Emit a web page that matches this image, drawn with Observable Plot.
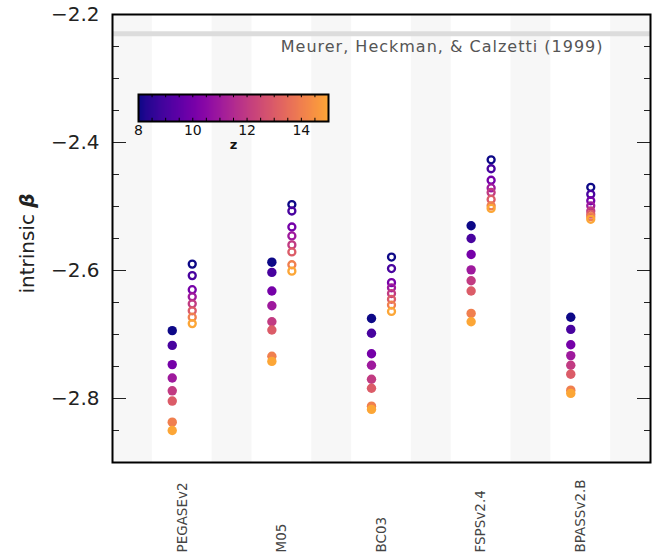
<!DOCTYPE html>
<html><head><meta charset="utf-8">
<script src="https://cdn.jsdelivr.net/npm/d3@7"></script>
<script src="https://cdn.jsdelivr.net/npm/@observablehq/plot@0.6"></script>
<style>
body{margin:0;background:#fff;}
#chart{position:relative;width:660px;height:553px;}
#legend{position:absolute;left:128px;top:89px;}
</style></head><body><div id="chart"></div>
<script>
const models = ["PEGASEv2", "M05", "BC03", "FSPSv2.4", "BPASSv2.B"];
const redshifts = [8, 9, 10, 11, 12, 13, 14, 15];

const pegaseFilled = [-2.694, -2.717, -2.747, -2.768, -2.788, -2.804, -2.837, -2.850];
const pegaseOpen   = [-2.590, -2.608, -2.630, -2.641, -2.652, -2.663, -2.673, -2.683];
const m05Filled    = [-2.587, -2.603, -2.632, -2.655, -2.680, -2.693, -2.734, -2.742];
const m05Open      = [-2.497, -2.507, -2.532, -2.546, -2.560, -2.571, -2.591, -2.601];
const bc03Filled   = [-2.675, -2.698, -2.730, -2.748, -2.770, -2.784, -2.812, -2.817];
const bc03Open     = [-2.579, -2.597, -2.619, -2.627, -2.636, -2.645, -2.654, -2.664];
const fspsFilled   = [-2.530, -2.550, -2.575, -2.599, -2.616, -2.632, -2.667, -2.680];
const fspsOpen     = [-2.427, -2.441, -2.459, -2.471, -2.478, -2.489, -2.499, -2.503];
const bpassFilled  = [-2.673, -2.692, -2.716, -2.733, -2.748, -2.762, -2.787, -2.792];
const bpassOpen    = [-2.470, -2.481, -2.491, -2.499, -2.507, -2.512, -2.516, -2.520];

const yMajorTicks = [-2.8, -2.6, -2.4, -2.2];
const yMinorTicks = [-2.85, -2.75, -2.7, -2.65, -2.55, -2.5, -2.45, -2.35, -2.3, -2.25];
const yDomain = [-2.9, -2.2];
const yLabel = "intrinsic β";

const meurerBeta = -2.23;
const meurerLabel = "Meurer, Heckman, & Calzetti (1999)";

const zDomain = [8, 15];
const colorbarTicks = [8, 10, 12, 14];
const colorbarMinorTicks = [8.5, 9, 9.5, 10, 10.5, 11, 11.5, 12, 12.5, 13, 13.5, 14, 14.5];
const colorLabel = "z";

// build table
const filledByModel = [pegaseFilled, m05Filled, bc03Filled, fspsFilled, bpassFilled];
const openByModel = [pegaseOpen, m05Open, bc03Open, fspsOpen, bpassOpen];
const filledPts = [], openPts = [];
models.forEach((m, i) => redshifts.forEach((z, j) => {
  filledPts.push({model: m, pos: i + 1, z, beta: filledByModel[i][j]});
  openPts.push({model: m, pos: i + 1, z, beta: openByModel[i][j]});
}));
const bandCenters = d3.range(models.length + 1).map(i => i + 0.5);

const colorScale = {type: "linear", domain: zDomain, interpolate: t => d3.interpolatePlasma(0.8 * t)};
const FONT = "DejaVu Sans";

const main = Plot.plot({
  width: 660, height: 553,
  marginLeft: 112, marginRight: 10, marginTop: 14, marginBottom: 91,
  style: {fontFamily: FONT, fontSize: "20px", color: "#222", background: "#fff"},
  x: {domain: [0.3, models.length + 0.7], axis: null},
  y: {domain: yDomain, axis: null, label: null},
  color: colorScale,
  marks: [
    Plot.rect(bandCenters, {x1: d => d - 0.2, x2: d => d + 0.2, fill: "#f7f7f7"}),
    Plot.ruleY([meurerBeta], {stroke: "#dcdcdc", strokeWidth: 5}),
    Plot.text([meurerLabel], {text: d => d, y: meurerBeta, frameAnchor: "right", textAnchor: "end", dx: -47, dy: 13, fill: "#555", fontSize: 16}),
    Plot.dot(filledPts, {x: "pos", y: "beta", fill: "z", r: 4.7, dx: -10}),
    Plot.dot(openPts, {x: "pos", y: "beta", stroke: "z", fill: "none", r: 3.5, strokeWidth: 2.3, dx: 10}),
    Plot.text(models, {x: (d, i) => i + 1, text: d => d, frameAnchor: "bottom", rotate: -90, textAnchor: "start", lineAnchor: "middle", dy: 90, fontSize: 13.5, fill: "#444"}),
    Plot.axisY(yMajorTicks, {anchor: "left", tickSize: 0, tickPadding: 13, tickFormat: d3.format(".1f"), fontSize: 20, label: null}),
    Plot.axisY(yMajorTicks, {anchor: "left", tickSize: -14, fill: "none", label: null}),
    Plot.axisY(yMinorTicks, {anchor: "left", tickSize: -7, fill: "none", label: null}),
    Plot.axisY(yMajorTicks, {anchor: "right", tickSize: -14, fill: "none", label: null}),
    Plot.axisY(yMinorTicks, {anchor: "right", tickSize: -7, fill: "none", label: null}),
    Plot.text([yLabel], {text: d => d, frameAnchor: "left", rotate: -90, dx: -85, dy: 5, textAnchor: "middle", lineAnchor: "middle", fontSize: 20, fill: "#222"}),
    Plot.frame({stroke: "#000", strokeWidth: 2})
  ]
});

// italic beta in the y label; wider tracking on the annotation
d3.select(main).selectAll("text").each(function() {
  const t = d3.select(this);
  if (this.textContent === yLabel) {
    t.text(null);
    t.append("tspan").text("intrinsic ");
    t.append("tspan").attr("font-style", "italic").attr("font-weight", "bold").text("β");
  } else if (this.textContent === meurerLabel) {
    t.attr("letter-spacing", "1px");
  }
});

const legend = Plot.plot({
  width: 230, height: 72,
  marginLeft: 10, marginRight: 30, marginTop: 5, marginBottom: 40,
  style: {fontFamily: FONT, fontSize: "14px", color: "#111", background: "transparent", overflow: "visible"},
  x: {domain: zDomain, axis: null},
  y: {domain: [0, 1], axis: null},
  color: colorScale,
  marks: [
    Plot.raster({fill: (x, y) => x, x1: zDomain[0], x2: zDomain[1], y1: 0, y2: 1}),
    Plot.ruleX(colorbarMinorTicks, {y1: 0, y2: 0.12, stroke: "#000"}),
    Plot.ruleX(colorbarMinorTicks, {y1: 0.88, y2: 1, stroke: "#000"}),
    Plot.frame({stroke: "#000", strokeWidth: 2}),
    Plot.axisX(colorbarTicks, {tickSize: 0, tickPadding: 4, label: null, fontSize: 14, tickFormat: d => String(d)}),
    Plot.text([colorLabel], {text: d => d, frameAnchor: "bottom", dy: 27, fontWeight: "bold", fontSize: 13, fill: "#111"})
  ]
});
legend.id = "legend";

const chart = document.getElementById("chart");
chart.appendChild(main);
chart.appendChild(legend);
</script></body></html>
